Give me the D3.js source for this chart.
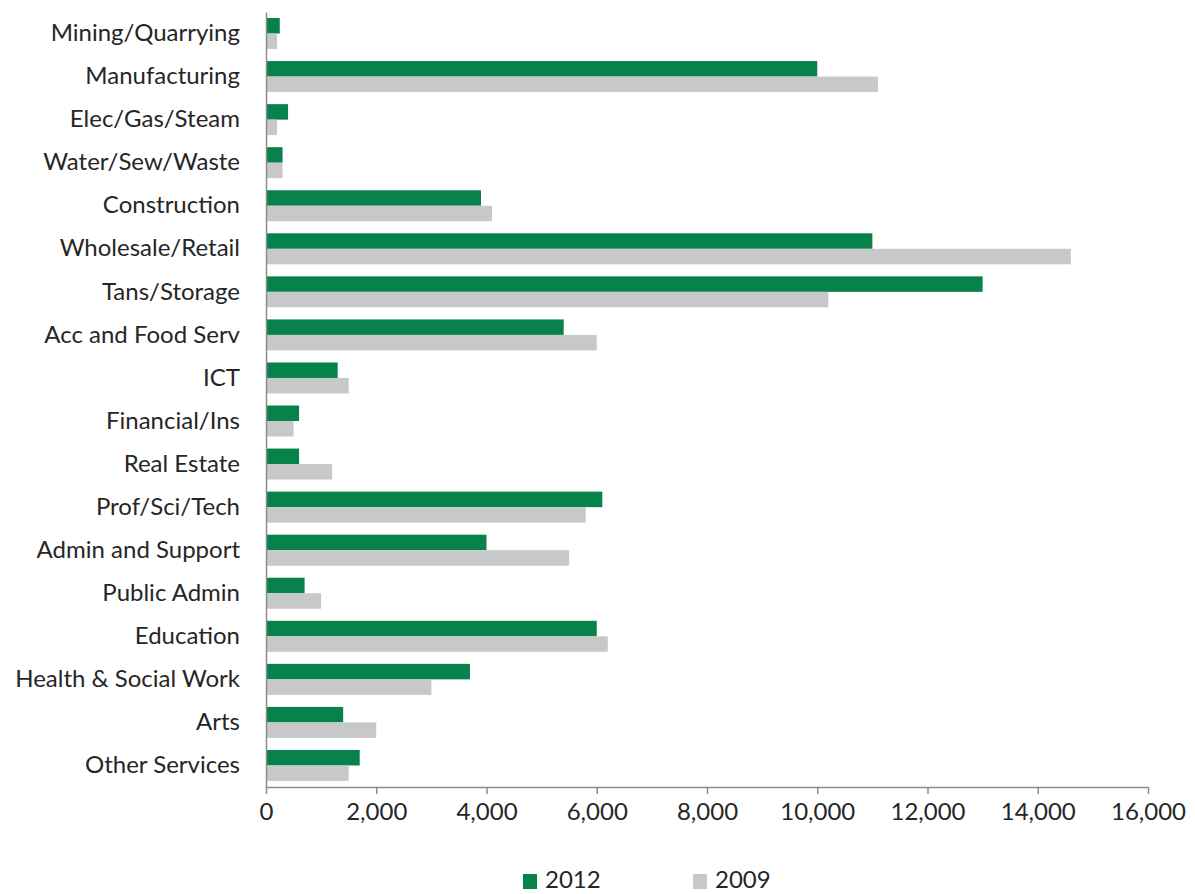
<!DOCTYPE html>
<html>
<head>
<meta charset="utf-8">
<script src="https://cdn.jsdelivr.net/npm/d3@7"></script>
<style>
  html, body { margin: 0; padding: 0; background: #ffffff; }
  svg { display: block; }
  text { font-family: Lato, "Open Sans", sans-serif; fill: #262626; }
</style>
</head>
<body>
<svg id="chart" width="1195" height="894"></svg>
<script>
// Industry sectors, top to bottom
const categories = [
  "Mining/Quarrying", "Manufacturing", "Elec/Gas/Steam", "Water/Sew/Waste",
  "Construction", "Wholesale/Retail", "Tans/Storage", "Acc and Food Serv",
  "ICT", "Financial/Ins", "Real Estate", "Prof/Sci/Tech", "Admin and Support",
  "Public Admin", "Education", "Health & Social Work", "Arts", "Other Services"
];
const series = ["2012", "2009"];
const values2012 = [250, 10000, 400, 300, 3900, 11000, 13000, 5400, 1300, 600, 600, 6100, 4000, 700, 6000, 3700, 1400, 1700];
const values2009 = [200, 11100, 200, 300, 4100, 14600, 10200, 6000, 1500, 500, 1200, 5800, 5500, 1000, 6200, 3000, 2000, 1500];
const xTicks = [0, 2000, 4000, 6000, 8000, 10000, 12000, 14000, 16000];
const colors = { "2012": "#06824a", "2009": "#c7c8ca" };

const FONT = "Lato, \"Open Sans\", sans-serif";
const FS = 24;

const svg = d3.select("#chart");
const margin = { top: 12, right: 47, bottom: 107, left: 266 };
const W = 1195, H = 894;
const plotW = W - margin.left - margin.right;
const plotH = H - margin.top - margin.bottom;

const g = svg.append("g").attr("transform", `translate(${margin.left},${margin.top})`);

const x = d3.scaleLinear().domain([0, 16000]).range([0, plotW]);
const y = d3.scaleBand().domain(categories).range([0, plotH]).paddingInner(0.28).paddingOuter(0.14);
const ySub = d3.scaleBand().domain(series).range([0, y.bandwidth()]);

const rows = categories.map((c, i) => ({ cat: c, vals: [
  { key: "2012", v: values2012[i] },
  { key: "2009", v: values2009[i] }
]}));

// Bars
const grp = g.selectAll("g.cat").data(rows).join("g")
  .attr("class", "cat")
  .attr("transform", d => `translate(0,${y(d.cat)})`);
grp.selectAll("rect").data(d => d.vals).join("rect")
  .attr("x", x(0))
  .attr("y", d => ySub(d.key))
  .attr("width", d => x(d.v) - x(0))
  .attr("height", ySub.bandwidth())
  .attr("fill", d => colors[d.key]);

// X axis
const xAxis = g.append("g").attr("transform", `translate(0,${plotH})`)
  .call(d3.axisBottom(x).tickValues(xTicks).tickFormat(d3.format(",")).tickSize(7).tickSizeOuter(0));
xAxis.attr("font-family", FONT).attr("font-size", FS);
xAxis.select(".domain").attr("stroke", "#8c8c8c").attr("stroke-width", 1.5);
xAxis.selectAll(".tick line").attr("stroke", "#8c8c8c").attr("stroke-width", 1.5);
xAxis.selectAll(".tick text").attr("y", 0).attr("dy", 0)
  .attr("transform", "translate(0,33)").attr("fill", "#262626");

// Y axis
const yAxis = g.append("g")
  .call(d3.axisLeft(y).tickSize(0).tickSizeOuter(0).tickPadding(26));
yAxis.attr("font-family", FONT).attr("font-size", FS);
yAxis.select(".domain").attr("stroke", "#8c8c8c").attr("stroke-width", 1.5);
yAxis.selectAll(".tick text").attr("fill", "#262626");

// Legend
const legend = svg.append("g").attr("transform", `translate(523,874)`);
const legendItems = legend.selectAll("g").data(series).join("g")
  .attr("transform", (d, i) => `translate(${i * 170},0)`);
legendItems.append("rect").attr("x", 0).attr("y", 0).attr("width", 14).attr("height", 15)
  .attr("fill", d => colors[d]);
legendItems.append("text").attr("x", 22).attr("y", 14)
  .attr("font-family", FONT).attr("font-size", FS).text(d => d);
</script>
</body>
</html>
